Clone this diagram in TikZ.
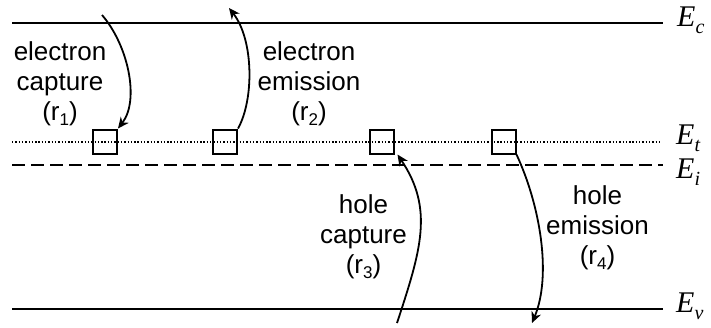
\documentclass[tikz,border=0pt]{standalone}
\usepackage{fontspec}
\setmainfont{Liberation Sans}
\newfontfamily\efont{Liberation Serif}
\usetikzlibrary{arrows.meta}
\newcommand\rsub[1]{\raisebox{-5pt}{\fontsize{17}{17}\selectfont #1}}
\newcommand\elab[2]{{\efont\itshape #1\raisebox{-7pt}{\fontsize{20}{20}\selectfont #2}}}
\tikzset{
  band/.style={line width=2pt},
  trapbox/.style={draw, line width=2pt, minimum size=24pt, inner sep=0pt},
  lbl/.style={font=\fontsize{26}{30}\selectfont, align=center, inner sep=0pt},
  elbl/.style={font=\fontsize{30}{30}\selectfont, anchor=base west, inner sep=0pt},
  trans/.style={line width=1.8pt, -{Stealth[length=11pt, width=10pt, inset=3.5pt]}}
}
\begin{document}
\begin{tikzpicture}[x=1pt, y=-1pt]
\useasboundingbox (0,0) rectangle (711,327);
% bands
\draw[band] (12,22.5) -- (663,22.5);
\draw[line width=1.3pt, dash pattern=on 1.4pt off 1.9pt] (12,142) -- (660,142);
\draw[band, dash pattern=on 12.5pt off 6.5pt] (12,165) -- (663,165);
\draw[band] (12,309) -- (663,309);
% band labels
\node[elbl] (Ec) at (677,26) {\elab{E}{c}};
\node[elbl] (Et) at (676,144) {\elab{E}{t}};
\node[elbl] (Ei) at (676,178) {\elab{E}{i}};
\node[elbl] (Ev) at (676,312) {\elab{E}{v}};
% traps
\node[trapbox] (t1) at (105,141.5) {};
\node[trapbox] (t2) at (225,141.5) {};
\node[trapbox] (t3) at (381.5,141.5) {};
\node[trapbox] (t4) at (503.5,141.5) {};
% free ends
\coordinate (s1) at (102,15);
\coordinate (e2) at (229,8);
\coordinate (s3) at (397,323);
\coordinate (e4) at (532,323);
% transitions
\draw[trans] (s1) .. controls (128,45) and (140,100) .. (t1.north east);
\draw[trans] (t2.north east) .. controls (254,100) and (254,40) .. (e2);
\draw[trans] (s3) .. controls (421,250) and (434,209) .. ([xshift=3pt]t3.south east);
\draw[trans] (t4.south east) .. controls (540,205) and (552,275) .. (e4);
% labels
\node[lbl] (l1) at (60,84) {electron\\capture\\(r\rsub{1})};
\node[lbl] (l2) at (309,84) {electron\\emission\\(r\rsub{2})};
\node[lbl] (l3) at (363.5,237) {hole\\capture\\(r\rsub{3})};
\node[lbl] (l4) at (597.5,228) {hole\\emission\\(r\rsub{4})};
\end{tikzpicture}
\end{document}
